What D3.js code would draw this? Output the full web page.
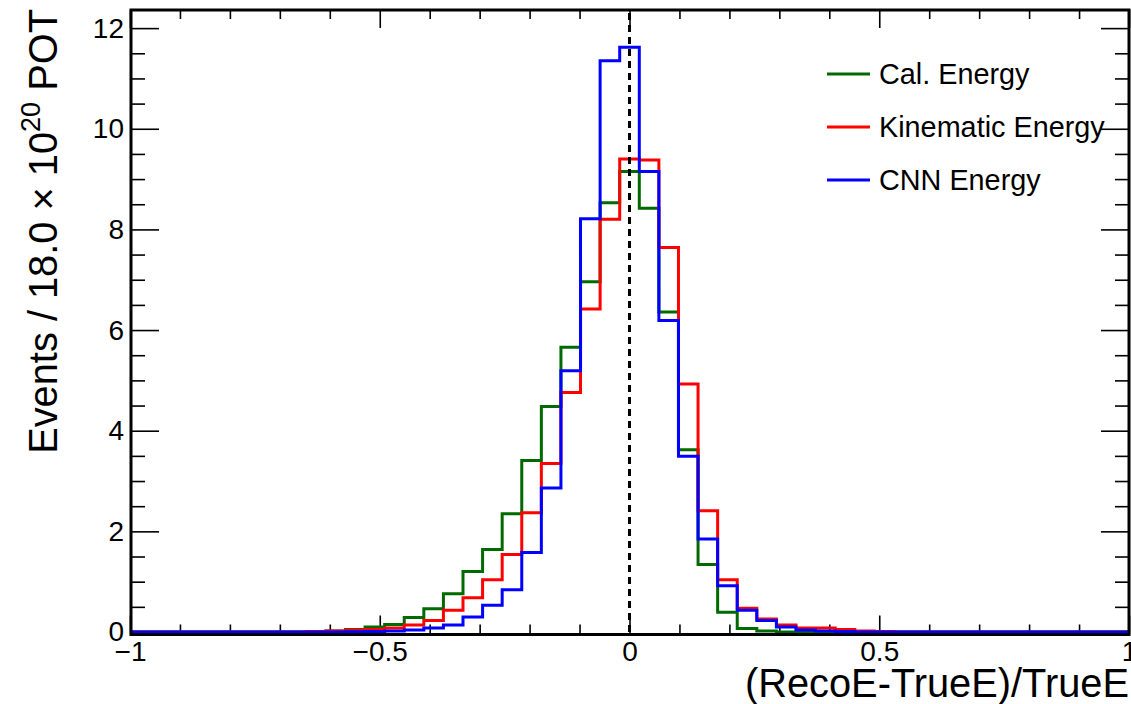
<!DOCTYPE html>
<html>
<head>
<meta charset="utf-8">
<script src="https://cdn.jsdelivr.net/npm/d3@7"></script>
<style>
  html, body { margin: 0; padding: 0; background: #fff; }
  svg { display: block; }
  text { font-family: "Liberation Sans", Arial, Helvetica, sans-serif; fill: #000; }
</style>
</head>
<body>
<svg id="chart" width="1131" height="704"></svg>
<script>
// ---------------- data ----------------
// 51 bins between -1 and 1 (bin 25 centred at 0)
const nBins = 51;
const xMin = -1, xMax = 1;
const xMajorTicks = [-1, -0.5, 0, 0.5, 1];
const yMajorTicks = [0, 2, 4, 6, 8, 10, 12];
const seriesNames = ["Cal. Energy", "Kinematic Energy", "CNN Energy"];
const seriesColors = ["#006a00", "#ff0000", "#0000ff"];

const calEnergy = [
  0, 0, 0, 0, 0, 0, 0, 0, 0, 0,
  0.02, 0.05, 0.10, 0.15, 0.29, 0.46, 0.76, 1.20, 1.64, 2.35,
  3.41, 4.48, 5.66, 6.96, 8.53, 9.15, 8.42, 6.36, 3.62, 1.34,
  0.39, 0.07, 0.02, 0, 0, 0, 0, 0, 0, 0,
  0, 0, 0, 0, 0, 0, 0, 0, 0, 0, 0
];
const kinematicEnergy = [
  0, 0, 0, 0, 0, 0, 0, 0, 0, 0.01,
  0.02, 0.04, 0.05, 0.08, 0.14, 0.23, 0.43, 0.68, 1.04, 1.54,
  2.37, 3.35, 4.76, 6.42, 8.20, 9.40, 9.38, 7.64, 4.93, 2.41,
  1.04, 0.47, 0.26, 0.14, 0.08, 0.08, 0.05, 0.02, 0.01, 0,
  0, 0, 0, 0, 0, 0, 0, 0, 0, 0, 0
];
const cnnEnergy = [
  0, 0, 0, 0, 0, 0, 0, 0, 0, 0,
  0, 0.005, 0.01, 0.02, 0.04, 0.08, 0.14, 0.30, 0.53, 0.84,
  1.58, 2.86, 5.19, 8.21, 11.35, 11.62, 9.15, 6.19, 3.49, 1.85,
  0.92, 0.43, 0.23, 0.10, 0.04, 0.02, 0.01, 0, 0, 0,
  0, 0, 0, 0, 0, 0, 0, 0, 0, 0, 0
];
const allSeries = [calEnergy, kinematicEnergy, cnnEnergy];

// ---------------- layout ----------------
const svg = d3.select("#chart");
const pL = 131, pR = 1129, pT = 10, pB = 632, frameB = 634.5;
const x = d3.scaleLinear().domain([xMin, xMax]).range([130, pR]);
const y = d3.scaleLinear().domain([0, 12.36]).range([pB, pT]);
const binW = (xMax - xMin) / nBins;
const fmt = d3.format("~g");

svg.append("rect").attr("width", 1131).attr("height", 704).attr("fill", "#fff");

svg.append("defs").append("clipPath").attr("id", "clip")
  .append("rect").attr("x", pL).attr("y", pT).attr("width", pR - pL).attr("height", frameB - pT);

// ---------------- axes ----------------
const xMinor = d3.range(-10, 11).map(i => i / 10).filter(v => !xMajorTicks.some(m => Math.abs(m - v) < 1e-9));
const yMinor = d3.range(0, 25).map(i => i / 2).filter(v => v % 2 !== 0);

function styleAxis(g, w) {
  g.select(".domain").remove();
  g.selectAll(".tick line").attr("stroke", "#000").attr("stroke-width", w);
}

// bottom
svg.append("g").attr("transform", `translate(0,${frameB})`)
  .call(d3.axisBottom(x).tickValues(xMajorTicks).tickSize(-19).tickPadding(7).tickFormat(fmt))
  .call(g => styleAxis(g, 1.6))
  .call(g => g.selectAll("text").attr("font-size", 28).attr("font-family", "Liberation Sans, Arial, sans-serif"));
svg.append("g").attr("transform", `translate(0,${frameB})`)
  .call(d3.axisBottom(x).tickValues(xMinor).tickSize(-10).tickFormat(""))
  .call(g => styleAxis(g, 1.6));
// top
svg.append("g").attr("transform", `translate(0,${pT})`)
  .call(d3.axisTop(x).tickValues(xMajorTicks).tickSize(-18).tickFormat(""))
  .call(g => styleAxis(g, 1.6));
svg.append("g").attr("transform", `translate(0,${pT})`)
  .call(d3.axisTop(x).tickValues(xMinor).tickSize(-9).tickFormat(""))
  .call(g => styleAxis(g, 1.6));
// left
svg.append("g").attr("transform", `translate(${pL},0)`)
  .call(d3.axisLeft(y).tickValues(yMajorTicks).tickSize(-28).tickPadding(7).tickFormat(fmt))
  .call(g => styleAxis(g, 1.6))
  .call(g => g.selectAll("text").attr("font-size", 28).attr("font-family", "Liberation Sans, Arial, sans-serif"));
svg.append("g").attr("transform", `translate(${pL},0)`)
  .call(d3.axisLeft(y).tickValues(yMinor).tickSize(-14).tickFormat(""))
  .call(g => styleAxis(g, 1.6));
// right
svg.append("g").attr("transform", `translate(${pR},0)`)
  .call(d3.axisRight(y).tickValues(yMajorTicks).tickSize(-28).tickFormat(""))
  .call(g => styleAxis(g, 1.6));
svg.append("g").attr("transform", `translate(${pR},0)`)
  .call(d3.axisRight(y).tickValues(yMinor).tickSize(-14).tickFormat(""))
  .call(g => styleAxis(g, 1.6));

// ---------------- histograms ----------------
function stepPath(values) {
  const p = d3.path();
  values.forEach((v, i) => {
    const x0 = x(xMin + i * binW), x1 = x(xMin + (i + 1) * binW);
    if (i === 0) p.moveTo(x0, y(v)); else p.lineTo(x0, y(v));
    p.lineTo(x1, y(v));
  });
  return p.toString();
}
const histG = svg.append("g").attr("clip-path", "url(#clip)");
allSeries.forEach((vals, i) => {
  histG.append("path")
    .attr("d", stepPath(vals))
    .attr("fill", "none")
    .attr("stroke", seriesColors[i])
    .attr("stroke-width", 3)
    .attr("stroke-linejoin", "miter");
});

// dashed zero line
svg.append("line")
  .attr("x1", x(0)).attr("x2", x(0))
  .attr("y1", y(0)).attr("y2", pT)
  .attr("stroke", "#000").attr("stroke-width", 3)
  .attr("stroke-dasharray", "7,5");

// frame
svg.append("rect")
  .attr("x", pL).attr("y", pT).attr("width", pR - pL).attr("height", frameB - pT)
  .attr("fill", "none").attr("stroke", "#000").attr("stroke-width", 3);

// ---------------- legend ----------------
const legRows = [74, 127, 180];
seriesNames.forEach((name, i) => {
  svg.append("line")
    .attr("x1", 827).attr("x2", 870)
    .attr("y1", legRows[i]).attr("y2", legRows[i])
    .attr("stroke", seriesColors[i]).attr("stroke-width", 3);
  svg.append("text")
    .attr("x", 879).attr("y", legRows[i]).attr("dy", "0.36em")
    .attr("font-size", 28.8)
    .text(name);
});

// ---------------- titles ----------------
svg.append("text")
  .attr("x", pR).attr("y", 697)
  .attr("text-anchor", "end")
  .attr("font-size", 39.8)
  .text("(RecoE-TrueE)/TrueE");

const yt = svg.append("text")
  .attr("transform", `translate(57,${pT - 1}) rotate(-90)`)
  .attr("text-anchor", "end")
  .attr("font-size", 39.8);
yt.append("tspan").text("Events / 18.0 \u00d7 10");
yt.append("tspan").attr("dy", -17).attr("font-size", 27).text("20");
yt.append("tspan").attr("dy", 17).text(" POT");
</script>
</body>
</html>
